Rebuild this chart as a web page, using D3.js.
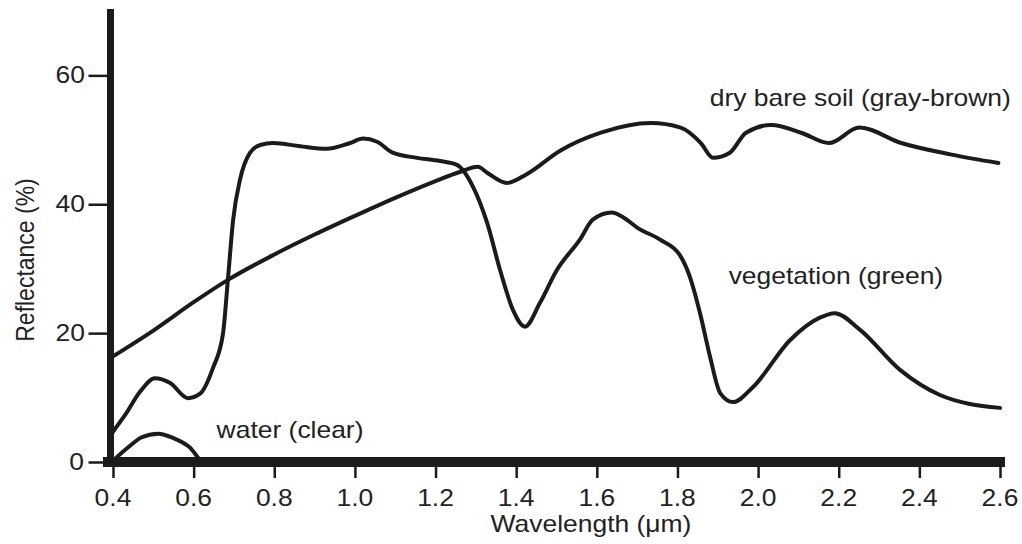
<!DOCTYPE html>
<html><head><meta charset="utf-8">
<script src="https://cdn.jsdelivr.net/npm/d3@7"></script>
<style>
html,body{margin:0;padding:0;background:#fff;}
svg{display:block;font-family:"Liberation Sans",Arial,sans-serif;}
</style></head>
<body><svg id="c" width="1022" height="544"></svg>
<script>
// wavelength (µm) and reflectance (%)
const soilW = [0.40,0.50,0.60,0.686,0.80,0.90,1.00,1.10,1.20,1.26,1.305,1.328,1.377,1.427,1.509,1.61,1.734,1.808,1.858,1.888,1.93,1.97,2.032,2.107,2.176,2.251,2.355,2.48,2.596];
const soilR = [16.4,20.4,24.8,28.3,32.2,35.3,38.2,41.0,43.6,45.0,45.8,44.9,43.3,44.7,48.3,51.1,52.6,51.9,49.5,47.2,48.0,51.1,52.3,51.1,49.5,51.9,49.5,47.7,46.4];

const vegW = [0.40,0.43,0.467,0.504,0.541,0.586,0.616,0.648,0.673,0.685,0.698,0.715,0.74,0.765,0.797,0.864,0.93,0.988,1.02,1.055,1.094,1.154,1.211,1.253,1.293,1.328,1.36,1.392,1.422,1.459,1.501,1.558,1.59,1.637,1.665,1.702,1.757,1.806,1.831,1.856,1.881,1.906,1.938,1.987,2.079,2.153,2.19,2.253,2.352,2.451,2.525,2.60];
const vegR = [4.7,7.3,10.9,13.0,12.3,9.9,10.6,14.6,20.0,28.3,37.6,43.8,48.0,49.2,49.5,49.0,48.6,49.5,50.2,49.7,48.0,47.2,46.7,46.1,42.7,37.1,29.8,23.6,21.0,24.7,29.8,34.5,37.6,38.7,38.0,36.3,34.5,32.1,28.7,23.1,16.3,10.7,9.3,11.6,18.9,22.4,23.1,20.5,14.3,10.4,9.0,8.4];

const waterW = [0.40,0.44,0.47,0.512,0.55,0.59,0.625,0.70,1.0,1.5,2.0,2.6];
const waterR = [0.2,2.4,3.8,4.4,3.7,2.3,0.0,0.0,0.0,0.0,0.0,0.0];

const xTicks = [0.4,0.6,0.8,1.0,1.2,1.4,1.6,1.8,2.0,2.2,2.4,2.6];
const yTicks = [0,20,40,60];

const labels = [
  {text:"dry bare soil (gray-brown)", w:1.88, r:55.2},
  {text:"vegetation (green)", w:1.927, r:27.6},
  {text:"water (clear)", w:0.657, r:3.8}
];

const svg = d3.select("#c");
const SX = 1.15; // horizontal stretch of the text
const ink = "#1b1b1b";

const x = d3.scaleLinear().domain([0.4,2.6]).range([113,1000]);
const y = d3.scaleLinear().domain([0,70.3]).range([462,9]);

// axes
const gx = svg.append("g").attr("transform",`translate(0,${y(0)})`)
  .call(d3.axisBottom(x).tickValues(xTicks).tickSize(16).tickSizeOuter(0).tickFormat(""));
gx.select(".domain").attr("stroke",ink).attr("stroke-width",10).attr("stroke-linecap","square")
  .attr("d",`M${x(0.4)-5},0H${x(2.6)}`);
gx.selectAll(".tick line").attr("stroke",ink).attr("stroke-width",2.5);

const gy = svg.append("g").attr("transform",`translate(110.5,0)`)
  .call(d3.axisLeft(y).tickValues(yTicks).tickSize(22).tickSizeOuter(0).tickFormat(""));
gy.select(".domain").attr("stroke",ink).attr("stroke-width",7)
  .attr("d",`M0,${y(70.3)}V${y(0)}`);
gy.selectAll(".tick line").attr("stroke",ink).attr("stroke-width",2.5);

// tick labels
svg.append("g").selectAll("text").data(xTicks).join("text")
  .attr("transform",d=>`translate(${x(d)},506) scale(${SX},1)`)
  .attr("text-anchor","middle").attr("font-size",23).attr("fill","#222")
  .text(d=>d.toFixed(1));
svg.append("g").selectAll("text").data(yTicks.filter(d=>d>0)).join("text")
  .attr("transform",d=>`translate(85,${y(d)+8}) scale(${SX},1)`)
  .attr("text-anchor","end").attr("font-size",23).attr("fill","#222")
  .text(d=>d);
svg.append("text").attr("transform",`translate(84,${y(0)+8}) scale(${SX},1)`)
  .attr("text-anchor","end").attr("font-size",23).attr("fill","#222").text("0");

// axis titles
svg.append("text").attr("transform",`translate(591,532) scale(${SX},1)`)
  .attr("text-anchor","middle").attr("font-size",23).attr("fill","#222").text("Wavelength (μm)");
svg.append("text").attr("transform",`translate(34,260) scale(${SX},1) rotate(-90)`)
  .attr("text-anchor","middle").attr("font-size",23).attr("fill","#222").text("Reflectance (%)");

// curves
const line = d3.line().x(d=>x(d[0])).y(d=>y(d[1])).curve(d3.curveMonotoneX);
const series = [[soilW,soilR],[vegW,vegR],[waterW,waterR]];
svg.append("g").selectAll("path").data(series).join("path")
  .attr("d",d=>line(d3.zip(d[0],d[1])))
  .attr("fill","none").attr("stroke",ink).attr("stroke-width",4)
  .attr("stroke-linejoin","round").attr("stroke-linecap","round");

// curve labels
svg.append("g").selectAll("text").data(labels).join("text")
  .attr("transform",d=>`translate(${x(d.w)},${y(d.r)}) scale(${SX},1)`)
  .attr("font-size",23).attr("fill","#222").text(d=>d.text);
</script></body></html>
